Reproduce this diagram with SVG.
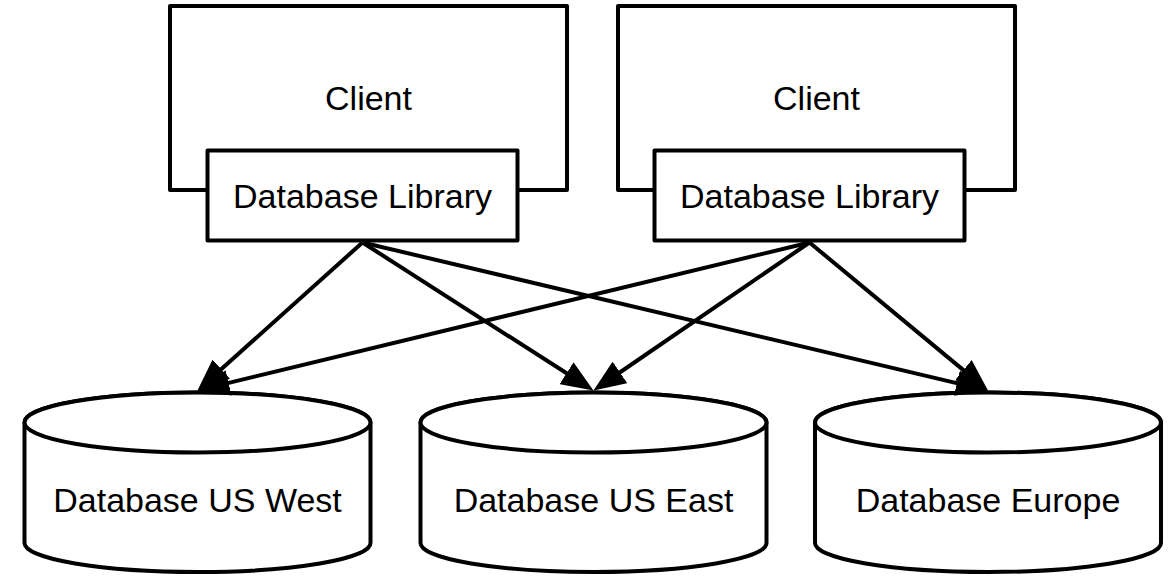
<svg xmlns="http://www.w3.org/2000/svg" width="1173" height="576" viewBox="0 0 1173 576">
  <style>
    .box { fill: #ffffff; stroke: #000000; stroke-width: 4; stroke-linejoin: round; }
    .lbl { font-family: "Liberation Sans", Arial, sans-serif; font-size: 34px; fill: #000000; text-anchor: middle; }
    .conn { stroke: #000000; stroke-width: 4; fill: none; marker-end: url(#arrow); }
  </style>
  <defs>
    <marker id="arrow" markerUnits="userSpaceOnUse" markerWidth="34" markerHeight="26" viewBox="0 0 34 26" refX="2" refY="13" orient="auto">
      <path d="M0,0 L32,13 L0,26 Z" fill="#000000"/>
    </marker>
  </defs>
  <rect width="1173" height="576" fill="#ffffff"/>

  <g id="client1">
    <rect class="box" x="170" y="6" width="397" height="184"/>
    <text class="lbl" x="368.5" y="110">Client</text>
  </g>
  <g id="library1">
    <rect class="box" x="207.5" y="150.5" width="310" height="90"/>
    <text class="lbl" x="362.5" y="208">Database Library</text>
  </g>

  <g id="client2">
    <rect class="box" x="618" y="6" width="397" height="184"/>
    <text class="lbl" x="816.5" y="110">Client</text>
  </g>
  <g id="library2">
    <rect class="box" x="654.5" y="150.5" width="310" height="90"/>
    <text class="lbl" x="809.5" y="208">Database Library</text>
  </g>

  <g id="db-us-west">
    <path class="box" d="M24.5,422.5 L24.5,543 A173,29 0 0 0 370.5,543 L370.5,422.5 A173,30 0 0 0 24.5,422.5 Z"/>
    <ellipse class="box" cx="197.5" cy="422.5" rx="173" ry="30"/>
    <text class="lbl" x="197.5" y="512">Database US West</text>
  </g>
  <g id="db-us-east">
    <path class="box" d="M420.5,422.5 L420.5,543 A173,29 0 0 0 766.5,543 L766.5,422.5 A173,30 0 0 0 420.5,422.5 Z"/>
    <ellipse class="box" cx="593.5" cy="422.5" rx="173" ry="30"/>
    <text class="lbl" x="593.5" y="512">Database US East</text>
  </g>
  <g id="db-europe">
    <path class="box" d="M815,422.5 L815,543 A173,29 0 0 0 1161,543 L1161,422.5 A173,30 0 0 0 815,422.5 Z"/>
    <ellipse class="box" cx="988" cy="422.5" rx="173" ry="30"/>
    <text class="lbl" x="988" y="512">Database Europe</text>
  </g>

  <g id="connectors">
    <line class="conn" x1="362.5" y1="242.5" x2="219.8" y2="370.5"/>
    <line class="conn" x1="362.5" y1="242.5" x2="568.2" y2="374.3"/>
    <line class="conn" x1="362.5" y1="242.5" x2="958.8" y2="383.6"/>
    <line class="conn" x1="809.5" y1="242.5" x2="226.7" y2="383.4"/>
    <line class="conn" x1="809.5" y1="242.5" x2="618.3" y2="373.5"/>
    <line class="conn" x1="809.5" y1="242.5" x2="964.9" y2="371.4"/>
  </g>
</svg>
